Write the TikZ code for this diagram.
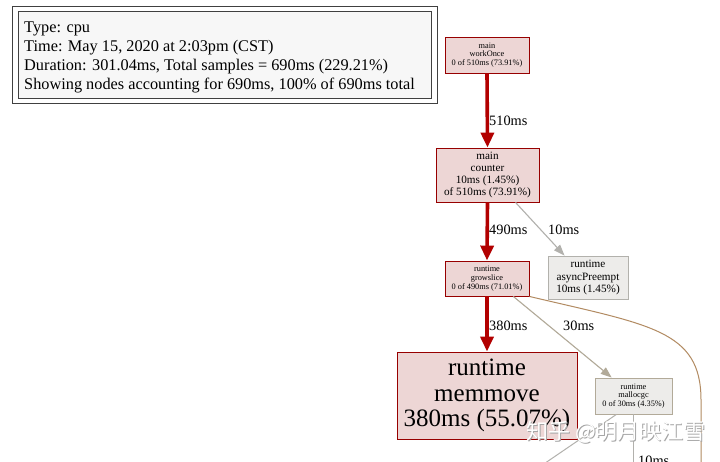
\documentclass[tikz,border=0pt]{standalone}
\usepackage{fontspec}
\setmainfont{Liberation Serif}
\newfontfamily\cjk{Noto Sans CJK SC}
\usetikzlibrary{arrows.meta,calc}
\definecolor{hotfill}{HTML}{EDD6D5}
\definecolor{hotdraw}{HTML}{B20000}
\definecolor{coolfill}{HTML}{EDECEA}
\definecolor{cooldraw}{HTML}{B2B1AC}
\definecolor{midedge}{HTML}{B2AA99}
\definecolor{brownedge}{HTML}{B28B62}
\definecolor{lightedge}{HTML}{B2B1AD}
\tikzset{
  fnode/.style={draw, line width=0.9pt, inner sep=0pt, align=center, minimum width=#1},
  hotbox/.style={fnode=#1, fill=hotfill, draw=hotdraw!85!black},
  coolbox/.style={fnode=#1, fill=coolfill, draw=cooldraw},
  hotedge/.style={draw=hotdraw, line width=3.6pt, -{Triangle[length=15pt,width=13pt]}},
  thinedge/.style={line width=1.1pt, -{Triangle[length=11pt,width=8pt]}},
  elabel/.style={font=\fontsize{14.3}{16}\selectfont, inner sep=0pt},
  small/.style={font=\fontsize{8.3}{8.8}\selectfont},
  medium/.style={font=\fontsize{11.2}{12.3}\selectfont},
}
\begin{document}
\begin{tikzpicture}[x=1pt,y=-1pt]
\useasboundingbox (0,0) rectangle (720,461);
\clip (0,0) rectangle (720,461);
\fill[white] (0,0) rectangle (720,461);
% legend
\draw[line width=0.9pt, draw=black!75] (12,6) rectangle (437,103);
\node[draw=black!75, line width=0.9pt, fill=black!3, minimum width=413pt, minimum height=87pt, inner sep=0pt] (legend) at (224.5,54.5) {};
\node[anchor=west, align=left, inner sep=0pt, font=\fontsize{16.3}{19}\selectfont] (legendtext) at (24,57)
  {Type: cpu\\Time: May 15, 2020 at 2:03pm (CST)\\Duration: 301.04ms, Total samples = 690ms (229.21\%)\\Showing nodes accounting for 690ms, 100\% of 690ms total};
% nodes
\node[hotbox=84pt, minimum height=36pt, small] (workonce) at (487,55) {main\\workOnce\\0 of 510ms (73.91\%)};
\node[hotbox=103pt, minimum height=54pt, medium] (counter) at (487.5,175) {main\\counter\\10ms (1.45\%)\\of 510ms (73.91\%)};
\node[hotbox=84pt, minimum height=35pt, small] (growslice) at (487,278.5) {runtime\\growslice\\0 of 490ms (71.01\%)};
\node[coolbox=80pt, minimum height=43pt, medium] (async) at (588,277.5) {runtime\\asyncPreempt\\10ms (1.45\%)};
\node[hotbox=180pt, minimum height=87pt, font=\fontsize{25}{25.5}\selectfont] (memmove) at (487,395.5) {runtime\\memmove\\380ms (55.07\%)};
\node[coolbox=77pt, minimum height=36pt, small, draw=midedge] (mallocgc) at (633.5,396) {runtime\\mallocgc\\0 of 30ms (4.35\%)};
% helper coordinates
\coordinate (cs) at ($(counter.south west)!0.77!(counter.south east)$);
\coordinate (an) at ($(async.north west)!0.21!(async.north east)$);
\coordinate (gs) at ($(growslice.south west)!0.81!(growslice.south east)$);
\coordinate (mn) at ($(mallocgc.north west)!0.22!(mallocgc.north east)$);
\coordinate (ms1) at ($(mallocgc.south west)!0.28!(mallocgc.south east)$);
\coordinate (ms2) at (mallocgc.south);
\coordinate (off1) at (513,485);
\coordinate (off2) at (633.5,485);
\coordinate (off3) at (701,485);
% edges
\draw[hotedge] (workonce.south) -- (counter.north);
\draw[hotedge] (counter.south) -- (growslice.north);
\draw[hotedge] (growslice.south) -- (memmove.north);
\draw[thinedge, draw=lightedge, fill=lightedge] (cs) -- (an);
\draw[thinedge, draw=midedge, fill=midedge] (gs) -- (mn);
\draw[draw=brownedge, line width=1pt] (growslice.south east) .. controls (650,325) and (701,330) .. (701,400) -- (off3);
\draw[draw=lightedge, line width=1pt] (ms1) -- (off1);
\draw[draw=lightedge, line width=1pt] (ms2) -- (off2);
% edge labels
\node[elabel, anchor=west] (l510) at (489,121) {510ms};
\node[elabel, anchor=west] (l490) at (489,230) {490ms};
\node[elabel, anchor=west] (l380) at (489,326) {380ms};
\node[elabel, anchor=west] (l10a) at (548,230) {10ms};
\node[elabel, anchor=west] (l30) at (563,326) {30ms};
\node[elabel, anchor=north west] (l10b) at (638,456) {10ms};
% watermark
\node[font=\cjk\fontsize{22}{22}\selectfont, text=black!35, inner sep=0pt] (wmshadow) at (617,433) {知乎 @明月映江雪};
\node[font=\cjk\fontsize{22}{22}\selectfont, text=white, inner sep=0pt] (wm) at (616,432) {知乎 @明月映江雪};
\end{tikzpicture}
\end{document}
